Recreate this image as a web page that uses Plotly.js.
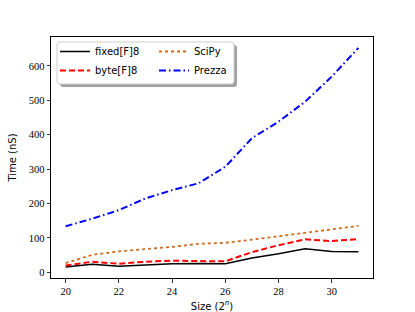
<!DOCTYPE html>
<html>
<head>
<meta charset="utf-8">
<script src="https://cdn.plot.ly/plotly-3.0.1.min.js"></script>
<style>html,body{margin:0;padding:0;background:#fff;}#chart{width:415px;height:312px;}</style>
</head>
<body>
<div id="chart"></div>
<script>
var sizes = [20, 21, 22, 23, 24, 25, 26, 27, 28, 29, 30, 31];
var fixedF8 = [16, 24, 18, 22, 25, 26, 25, 42, 54, 69, 61, 60];
var byteF8 = [20, 31, 25, 31, 34, 34, 32, 59, 79, 96, 91, 97];
var scipy = [27, 51, 61, 67, 74, 83, 86, 95, 105, 115, 124, 135];
var prezza = [134, 156, 181, 215, 239, 259, 307, 390, 438, 496, 569, 652];
var xTicks = [20, 22, 24, 26, 28, 30];
var yTicks = [0, 100, 200, 300, 400, 500, 600];

var traces = [
  {x: sizes, y: fixedF8, name: 'fixed[F]8', mode: 'lines', legend: 'legend', line: {color: '#000000', width: 1.5, dash: 'solid'}},
  {x: sizes, y: byteF8, name: 'byte[F]8', mode: 'lines', legend: 'legend', line: {color: '#ff0000', width: 2, dash: '6px,3px'}},
  {x: sizes, y: scipy, name: 'SciPy', mode: 'lines', legend: 'legend2', line: {color: '#d2691e', width: 1.8, dash: 'dot'}},
  {x: sizes, y: prezza, name: 'Prezza', mode: 'lines', legend: 'legend2', line: {color: '#0000ff', width: 2, dash: '7px,3px,1.5px,3px'}}
];

// plot area in pixels (for legend frame decoration)
var L = 51, R = 373, T = 37, B = 278;
function px2paper(x, y) { return [(x - L) / (R - L), (B - y) / (B - T)]; }
function roundRect(x0, y0, x1, y1, r) {
  var p = function (x, y) { var q = px2paper(x, y); return q[0].toFixed(5) + ',' + q[1].toFixed(5); };
  return 'M' + p(x0 + r, y0) + ' L' + p(x1 - r, y0) + ' Q' + p(x1, y0) + ' ' + p(x1, y0 + r) +
    ' L' + p(x1, y1 - r) + ' Q' + p(x1, y1) + ' ' + p(x1 - r, y1) +
    ' L' + p(x0 + r, y1) + ' Q' + p(x0, y1) + ' ' + p(x0, y1 - r) +
    ' L' + p(x0, y0 + r) + ' Q' + p(x0, y0) + ' ' + p(x0 + r, y0) + ' Z';
}
var legendStyle = function (xpx) {
  return {
    orientation: 'v', x: px2paper(xpx, 0)[0], y: 1.0, xanchor: 'left', yanchor: 'top',
    bgcolor: 'rgba(0,0,0,0)', borderwidth: 0,
    font: {family: 'DejaVu Sans', size: 10, color: '#000'},
    tracegroupgap: 0, itemwidth: 30
  };
};

var layout = {
  width: 415, height: 312,
  margin: {l: L, r: 415 - R, t: T, b: 312 - B, pad: 0},
  paper_bgcolor: '#ffffff', plot_bgcolor: '#ffffff',
  showlegend: true,
  legend: legendStyle(55),
  legend2: legendStyle(154),
  xaxis: {
    range: [19.45, 31.55], tickvals: xTicks, ticktext: xTicks.map(String),
    showgrid: false, zeroline: false, showline: true, linecolor: '#000', linewidth: 1, mirror: true,
    ticks: 'outside', ticklen: 3.5, tickwidth: 0.8, tickcolor: '#000',
    tickfont: {family: 'Liberation Serif, DejaVu Serif', size: 10.5, color: '#000'},
    title: {text: 'Size (2<sup><i>n</i></sup>)', font: {family: 'DejaVu Sans', size: 10, color: '#000'}, standoff: 6}
  },
  yaxis: {
    range: [-16.3, 684], tickvals: yTicks, ticktext: yTicks.map(String),
    showgrid: false, zeroline: false, showline: true, linecolor: '#000', linewidth: 1, mirror: true,
    ticks: 'outside', ticklen: 3.5, tickwidth: 0.8, tickcolor: '#000',
    tickfont: {family: 'Liberation Serif, DejaVu Serif', size: 10.5, color: '#000'},
    title: {text: 'Time (nS)', font: {family: 'DejaVu Sans', size: 10, color: '#000'}, standoff: 10}
  },
  shapes: [
    {type: 'path', xref: 'paper', yref: 'paper', path: roundRect(60, 45, 237, 87, 3),
     fillcolor: '#a0a0a0', line: {width: 0}, layer: 'above'},
    {type: 'path', xref: 'paper', yref: 'paper', path: roundRect(57, 42, 234, 84, 3),
     fillcolor: '#ffffff', line: {color: '#d0d0d0', width: 1}, layer: 'above'}
  ]
};

Plotly.newPlot('chart', traces, layout, {staticPlot: true, displayModeBar: false});
</script>
</body>
</html>
